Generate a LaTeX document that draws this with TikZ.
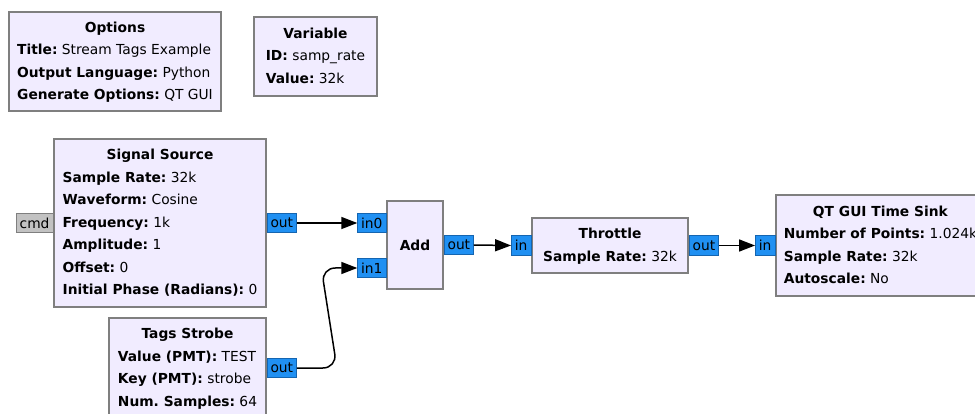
\documentclass[tikz,border=0pt]{standalone}
\usepackage{fontspec}
\setmainfont{DejaVu Sans}
\usetikzlibrary{arrows.meta, positioning}
\frenchspacing

\definecolor{blockfill}{HTML}{F1ECFF}
\definecolor{blockline}{HTML}{7F7F7F}
\definecolor{portblue}{HTML}{2090F2}
\definecolor{portline}{HTML}{1565B0}
\definecolor{msgport}{HTML}{C2C2C2}

% one parameter line, and a block body with a centred title
\newcommand{\prm}[2]{\textbf{#1:} #2}
\newcommand{\blk}[2]{\begin{tabular}{@{}l@{}}\multicolumn{1}{@{}c@{}}{\textbf{#1}}\\#2\end{tabular}}

\begin{document}
\begin{tikzpicture}[
    x=1pt, y=-1pt,
    every node/.style={font=\fontsize{13.8}{22.5}\selectfont},
    block/.style={rectangle, draw=blockline, line width=1.5pt, fill=blockfill, inner sep=0pt},
    port/.style={rectangle, draw=portline, line width=0.6pt, fill=portblue, inner xsep=3.5pt, inner ysep=0pt, minimum height=19.5pt},
    msg/.style={port, draw=blockline, fill=msgport},
    wire/.style={-{Triangle[length=16pt, width=12pt]}, line width=1.5pt}
]

\path[use as bounding box, fill=white] (0,0) rectangle (975,414);

% Options and variable
\node[block, minimum width=212pt, minimum height=99pt] (opts) at (115,61.5)
    {\blk{Options}{\prm{Title}{Stream Tags Example}\\\prm{Output Language}{Python}\\\prm{Generate Options}{QT GUI}}};
\node[block, minimum width=123pt, minimum height=79pt] (var) at (315.5,56.5)
    {\blk{Variable}{\prm{ID}{samp\_rate}\\\prm{Value}{32k}}};

% Sources
\node[block, minimum width=212pt, minimum height=168pt] (src) at (160,223)
    {\blk{Signal Source}{\prm{Sample Rate}{32k}\\\prm{Waveform}{Cosine}\\\prm{Frequency}{1k}\\\prm{Amplitude}{1}\\\prm{Offset}{0}\\\prm{Initial Phase (Radians)}{0}}};
\node[block, minimum width=157pt, minimum height=100pt] (strobe) at (187.5,368)
    {\blk{Tags Strobe}{\prm{Value (PMT)}{TEST}\\\prm{Key (PMT)}{strobe}\\\prm{Num. Samples}{64}}};

% Processing chain
\node[block, minimum width=56pt, minimum height=88pt] (add) at (415,245) {\textbf{Add}};
\node[block, minimum width=156pt, minimum height=55pt] (thr) at (610,245.5)
    {\blk{Throttle}{\prm{Sample Rate}{32k}}};
\node[block, minimum width=209pt, minimum height=101pt] (sink) at (880.5,245.5)
    {\blk{QT GUI Time Sink}{\prm{Number of Points}{1.024k}\\\prm{Sample Rate}{32k}\\\prm{Autoscale}{No}}};

% Ports
\node[msg, left=0pt of src] (cmd) {cmd};
\node[port, right=0pt of src] (srcout) {out};
\node[port, right=0pt of strobe] (strout) {out};
\node[port, anchor=east] (in0) at ([yshift=22pt]add.west) {in0};
\node[port, anchor=east] (in1) at ([yshift=-23pt]add.west) {in1};
\node[port, right=0pt of add] (addout) {out};
\node[port, left=0pt of thr] (thrin) {in};
\node[port, right=0pt of thr] (throut) {out};
\node[port, left=0pt of sink] (sinkin) {in};

% Connections
\draw[wire] (srcout.east) -- (in0.west);
\draw[wire, rounded corners=14pt] (strout.east) -- ++(40,0) -- ([xshift=-36pt]in1.west) -- (in1.west);
\draw[wire] (addout.east) -- (thrin.west);
\draw[wire] (throut.east) -- (sinkin.west);

\end{tikzpicture}
\end{document}
